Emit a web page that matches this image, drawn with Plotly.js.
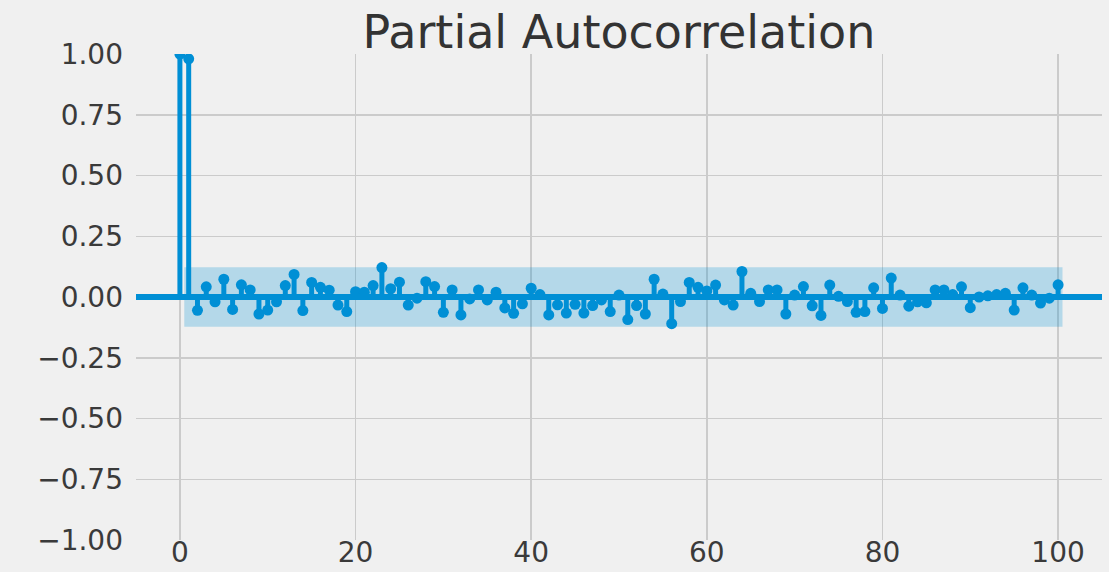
<!DOCTYPE html>
<html>
<head>
<meta charset="utf-8">
<script src="https://cdn.plot.ly/plotly-3.0.1.min.js"></script>
<style>
  html, body { margin: 0; padding: 0; background: #f0f0f0; }
  #chart { width: 1109px; height: 572px; }
</style>
</head>
<body>
<div id="chart"></div>
<script>
// ---- data ----
const lags = Array.from({length: 101}, (_, i) => i);
const pacfValues = [
  1.0, 0.98, -0.055, 0.042, -0.02, 0.073, -0.051, 0.05, 0.029, -0.07,
  -0.054, -0.02, 0.047, 0.093, -0.056, 0.06, 0.04, 0.028, -0.033, -0.06,
  0.022, 0.02, 0.047, 0.121, 0.034, 0.061, -0.033, -0.005, 0.063, 0.043,
  -0.063, 0.029, -0.074, -0.008, 0.029, -0.012, 0.02, -0.045, -0.067, -0.028,
  0.036, 0.01, -0.074, -0.032, -0.066, -0.03, -0.066, -0.035, -0.012, -0.06,
  0.008, -0.093, -0.035, -0.07, 0.073, 0.012, -0.11, -0.019, 0.06, 0.04,
  0.025, 0.049, -0.012, -0.033, 0.105, 0.015, -0.019, 0.029, 0.029, -0.07,
  0.008, 0.043, -0.036, -0.076, 0.049, 0.003, -0.019, -0.063, -0.06, 0.038,
  -0.047, 0.078, 0.008, -0.038, -0.02, -0.024, 0.029, 0.029, 0.01, 0.042,
  -0.044, 0.0, 0.005, 0.01, 0.015, -0.054, 0.038, 0.008, -0.025, -0.005,
  0.05
];
const confHalfWidth = 0.122;
const xTickVals = [0, 20, 40, 60, 80, 100];
const yTickVals = [-1, -0.75, -0.5, -0.25, 0, 0.25, 0.5, 0.75, 1];
const titleText = 'Partial Autocorrelation';

// ---- build traces ----
const C0 = '#008fd5';
const stemX = [], stemY = [];
lags.forEach((l, i) => { stemX.push(l, l, null); stemY.push(0, pacfValues[i], null); });

const bandStart = lags[1] - 0.5, bandEnd = lags[lags.length - 1] + 0.5;
const band = {
  x: [bandStart, bandEnd, bandEnd, bandStart, bandStart],
  y: [confHalfWidth, confHalfWidth, -confHalfWidth, -confHalfWidth, confHalfWidth],
  mode: 'lines', fill: 'toself', fillcolor: 'rgba(0,143,213,0.25)',
  line: {width: 0, color: 'rgba(0,0,0,0)'}, hoverinfo: 'skip', showlegend: false
};
const stems = {
  x: stemX, y: stemY, mode: 'lines',
  line: {color: C0, width: 5}, hoverinfo: 'skip', showlegend: false
};
const markers = {
  x: lags, y: pacfValues, mode: 'markers',
  marker: {color: C0, size: 11, line: {width: 0}}, showlegend: false
};

const font = {family: 'DejaVu Sans, sans-serif', color: '#3a3a3a'};
const layout = {
  width: 1109, height: 572,
  paper_bgcolor: '#f0f0f0', plot_bgcolor: '#f0f0f0',
  margin: {l: 136, r: 7, t: 54, b: 32, pad: 0},
  title: {
    text: titleText, x: 0.5, xref: 'paper', y: 1 - 32 / 572, yref: 'container',
    xanchor: 'center', yanchor: 'middle',
    font: {family: 'DejaVu Sans, sans-serif', size: 46, color: '#333333'}
  },
  xaxis: {
    range: [-5, 105], tickvals: xTickVals, ticktext: xTickVals.map(String),
    showgrid: true, gridcolor: '#cbcbcb', gridwidth: 1.5, zeroline: false,
    showline: false, ticks: '', ticklabelstandoff: -7,
    tickfont: Object.assign({size: 28}, font), automargin: false, fixedrange: true
  },
  yaxis: {
    range: [-1, 1], tickvals: yTickVals, tickformat: '.2f',
    showgrid: true, gridcolor: '#cbcbcb', gridwidth: 1.5, zeroline: false,
    showline: false, ticks: '', ticklabelstandoff: 12,
    tickfont: Object.assign({size: 28}, font), automargin: false, fixedrange: true
  },
  shapes: [{
    type: 'line', xref: 'paper', x0: 0, x1: 1, yref: 'y', y0: 0, y1: 0,
    line: {color: C0, width: 6}, layer: 'above'
  }],
  showlegend: false
};

Plotly.newPlot('chart', [band, stems, markers], layout, {displayModeBar: false, staticPlot: true});
</script>
</body>
</html>
